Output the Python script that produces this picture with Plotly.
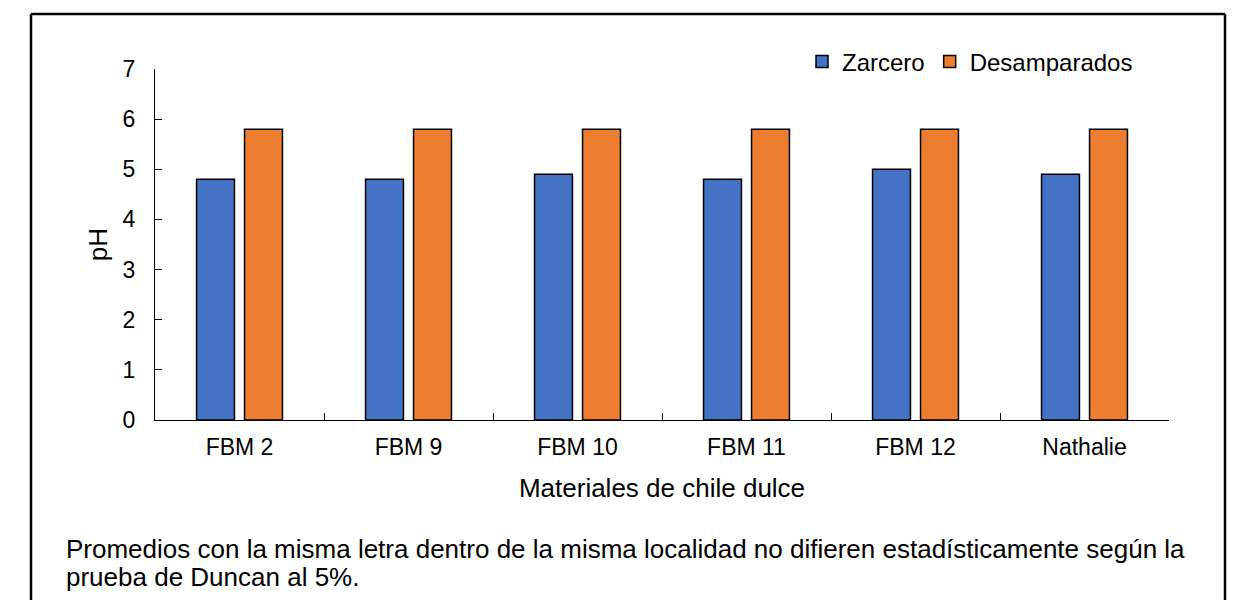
import plotly.graph_objects as go

materiales = ["FBM 2", "FBM 9", "FBM 10", "FBM 11", "FBM 12", "Nathalie"]
zarcero = [4.8, 4.8, 4.9, 4.8, 5.0, 4.9]
desamparados = [5.8, 5.8, 5.8, 5.8, 5.8, 5.8]
y_ticks = [0, 1, 2, 3, 4, 5, 6, 7]

font = "Liberation Sans, Arial, sans-serif"

fig = go.Figure()
fig.add_trace(go.Bar(x=materiales, y=zarcero, name="Zarcero",
                     marker=dict(color="#4472C4", line=dict(color="black", width=1.5))))
fig.add_trace(go.Bar(x=materiales, y=desamparados, name="Desamparados",
                     marker=dict(color="#ED7D31", line=dict(color="black", width=1.5))))

# page has an 8px body margin, so work in page pixels and shift
OFF = 8
W, H = 1239 - OFF, 600 - OFF
L, R, T, B = 155 - OFF, W - (1169 - OFF), 69 - OFF, H - (420 - OFF)
pw, ph = W - L - R, H - T - B

def px(x):
    return (x - OFF - L) / pw

def py(y):
    return (H - B - (y - OFF)) / ph

# outer frame: left, top, right (open at the bottom)
frame = dict(color="black", width=2.5)
for x0, y0, x1, y1 in [(31, 14, 31, 620), (31, 14, 1225, 14), (1225, 14, 1225, 620)]:
    fig.add_shape(type="line", xref="paper", yref="paper",
                  x0=px(x0), y0=py(y0), x1=px(x1), y1=py(y1), line=frame)

fig.add_annotation(xref="paper", yref="paper", x=px(64), y=py(549), xanchor="left", yanchor="middle",
                   text="Promedios con la misma letra dentro de la misma localidad no difieren estadísticamente según la",
                   showarrow=False, font=dict(size=26, color="black", family=font))
fig.add_annotation(xref="paper", yref="paper", x=px(64), y=py(577), xanchor="left", yanchor="middle",
                   text="prueba de Duncan al 5%.",
                   showarrow=False, font=dict(size=26, color="black", family=font))

fig.update_layout(
    width=W, height=H,
    margin=dict(l=L, r=R, t=T, b=B),
    paper_bgcolor="white", plot_bgcolor="white",
    font=dict(family=font, size=24, color="black"),
    barmode="group", bargap=0.432, bargroupgap=0.21,
    showlegend=True,
    legend=dict(orientation="h", x=px(802), y=py(62), xanchor="left", yanchor="middle",
                font=dict(size=24), itemwidth=30, tracegroupgap=0, bgcolor="rgba(0,0,0,0)"),
    xaxis=dict(title=dict(text="Materiales de chile dulce", font=dict(size=26), standoff=20),
               showline=True, linecolor="black", linewidth=1,
               ticks="inside", tickson="boundaries", ticklen=7, tickcolor="black",
               ticklabelstandoff=6, tickfont=dict(size=23), showgrid=False),
    yaxis=dict(title=dict(text="pH", font=dict(size=26), standoff=7),
               range=[0, 7], tickvals=y_ticks,
               showline=True, linecolor="black", linewidth=1,
               ticks="inside", ticklen=7, tickcolor="black",
               ticklabelstandoff=14, tickfont=dict(size=23), showgrid=False, zeroline=False),
)

fig.write_html("out.html")
